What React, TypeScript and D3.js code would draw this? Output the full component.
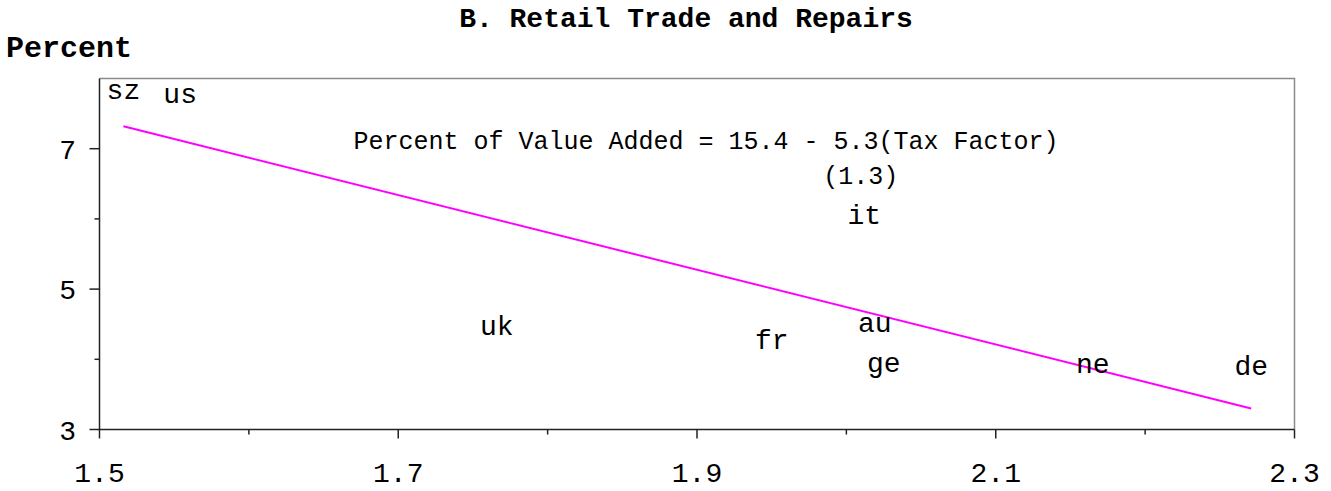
/**
 * Retail trade scatter: country codes plotted at (tax factor, percent of value added)
 * with the fitted regression line drawn in magenta.
 */

import { useEffect, useRef } from 'react';
import * as d3 from 'd3';

const countries = ['sz', 'us', 'uk', 'fr', 'au', 'ge', 'ne', 'de', 'it'];
const taxFactor = [1.516, 1.554, 1.766, 1.95, 2.019, 2.025, 2.165, 2.271, 2.012];
const valueAdded = [7.79, 7.74, 4.44, 4.24, 4.47, 3.9, 3.89, 3.86, 6.01];

// fitted line end points
const fitX = [1.516, 2.271];
const fitY = [7.32, 3.3];

const xTicks = [1.5, 1.7, 1.9, 2.1, 2.3];
const xMinorTicks = [1.6, 1.8, 2.0, 2.2];
const yTicks = [3, 5, 7];
const yMinorTicks = [4, 6];

const title = 'B. Retail Trade and Repairs';
const yLabel = 'Percent';
const equation = 'Percent of Value Added = 15.4 - 5.3(Tax Factor)';
const stdErr = '(1.3)';

const W = 1331;
const H = 491;
const FONT = '"Courier New", "Liberation Mono", monospace';

export default function App() {
  const svgRef = useRef<SVGSVGElement>(null);

  useEffect(() => {
    if (!svgRef.current) return;
    const svg = d3.select(svgRef.current);
    svg.selectAll('*').remove();

    const left = 99.5;
    const right = 1294.5;
    const top = 78.5;
    const bottom = 429.5;

    const x = d3.scaleLinear().domain([1.5, 2.3]).range([left, right]);
    const y = d3.scaleLinear().domain([3, 8]).range([bottom, top]);

    svg.append('rect').attr('width', W).attr('height', H).attr('fill', '#ffffff');

    // title + axis label
    svg
      .append('text')
      .attr('x', 686)
      .attr('y', 27)
      .attr('text-anchor', 'middle')
      .attr('font-family', FONT)
      .attr('font-weight', 'bold')
      .attr('font-size', '28px')
      .attr('fill', '#000')
      .text(title);

    svg
      .append('text')
      .attr('x', 6)
      .attr('y', 57)
      .attr('font-family', FONT)
      .attr('font-weight', 'bold')
      .attr('font-size', '30px')
      .attr('fill', '#000')
      .text(yLabel);

    // frame: top/right grey, left/bottom dark
    svg
      .append('path')
      .attr('d', `M${left},${top}H${right}V${bottom}`)
      .attr('fill', 'none')
      .attr('stroke', '#8a8a8a')
      .attr('stroke-width', 1.5);
    svg
      .append('path')
      .attr('d', `M${left},${top}V${bottom}H${right}`)
      .attr('fill', 'none')
      .attr('stroke', '#222')
      .attr('stroke-width', 1.5);

    // x ticks
    xTicks.forEach((t) => {
      svg
        .append('line')
        .attr('x1', x(t))
        .attr('x2', x(t))
        .attr('y1', bottom)
        .attr('y2', bottom + 9)
        .attr('stroke', '#222')
        .attr('stroke-width', 1.5);
      svg
        .append('text')
        .attr('x', x(t))
        .attr('y', 482)
        .attr('text-anchor', 'middle')
        .attr('font-family', FONT)
        .attr('font-size', '28px')
        .attr('fill', '#000')
        .text(d3.format('.1f')(t));
    });
    xMinorTicks.forEach((t) => {
      svg
        .append('line')
        .attr('x1', x(t))
        .attr('x2', x(t))
        .attr('y1', bottom)
        .attr('y2', bottom + 5)
        .attr('stroke', '#222')
        .attr('stroke-width', 1.5);
    });

    // y ticks
    yTicks.forEach((t) => {
      svg
        .append('line')
        .attr('x1', left - 10)
        .attr('x2', left)
        .attr('y1', y(t))
        .attr('y2', y(t))
        .attr('stroke', '#222')
        .attr('stroke-width', 1.5);
      svg
        .append('text')
        .attr('x', 76)
        .attr('y', y(t))
        .attr('dy', '0.36em')
        .attr('text-anchor', 'end')
        .attr('font-family', FONT)
        .attr('font-size', '28px')
        .attr('fill', '#000')
        .text(String(t));
    });
    yMinorTicks.forEach((t) => {
      svg
        .append('line')
        .attr('x1', left - 5)
        .attr('x2', left)
        .attr('y1', y(t))
        .attr('y2', y(t))
        .attr('stroke', '#222')
        .attr('stroke-width', 1.5);
    });

    // fitted line
    const line = d3
      .line<number>()
      .x((d) => x(d))
      .y((_, i) => y(fitY[i]));
    svg
      .append('path')
      .datum(fitX)
      .attr('d', line)
      .attr('fill', 'none')
      .attr('stroke', '#ff00ff')
      .attr('stroke-width', 2);

    // country labels as markers
    svg
      .append('g')
      .selectAll('text')
      .data(countries)
      .enter()
      .append('text')
      .attr('x', (_, i) => x(taxFactor[i]))
      .attr('y', (_, i) => y(valueAdded[i]))
      .attr('dy', '0.22em')
      .attr('text-anchor', 'middle')
      .attr('font-family', FONT)
      .attr('font-size', '28px')
      .attr('fill', '#000')
      .text((d) => d);

    // regression annotation
    svg
      .append('text')
      .attr('x', x(1.906))
      .attr('y', y(7.0))
      .attr('text-anchor', 'middle')
      .attr('font-family', FONT)
      .attr('font-size', '25px')
      .attr('fill', '#000')
      .text(equation);
    svg
      .append('text')
      .attr('x', x(2.0097))
      .attr('y', y(6.5))
      .attr('text-anchor', 'middle')
      .attr('font-family', FONT)
      .attr('font-size', '25px')
      .attr('fill', '#000')
      .text(stdErr);
  }, []);

  return (
    <div style={{ position: 'absolute', left: 0, top: 0 }}>
      <svg ref={svgRef} width={W} height={H} style={{ display: 'block' }} />
    </div>
  );
}
